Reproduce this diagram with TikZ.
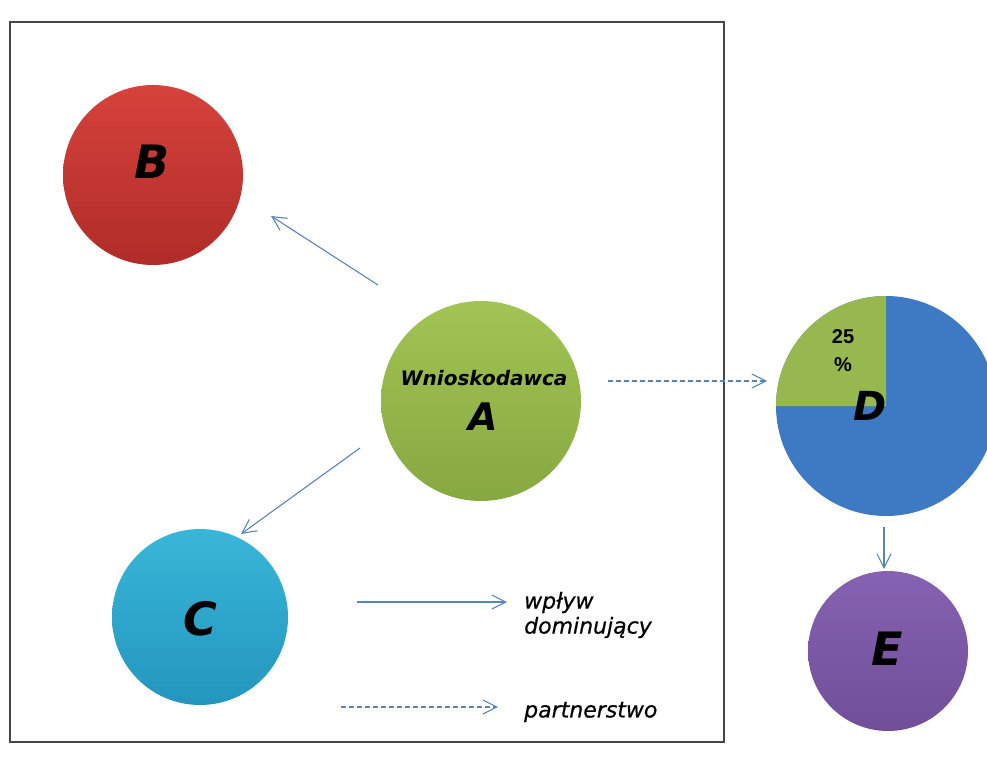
\documentclass[tikz,border=0pt]{standalone}
\usepackage{fontspec}
\setmainfont{DejaVu Sans}
\newfontfamily\arialfont{Liberation Sans}
\usetikzlibrary{arrows.meta}

\definecolor{linkblue}{RGB}{88,132,190}
\definecolor{framegray}{RGB}{70,70,70}
\definecolor{redtop}{RGB}{214,66,60}
\definecolor{redbot}{RGB}{176,44,40}
\definecolor{greentop}{RGB}{162,196,84}
\definecolor{greenbot}{RGB}{134,168,64}
\definecolor{cyantop}{RGB}{56,182,216}
\definecolor{cyanbot}{RGB}{36,150,190}
\definecolor{pieblue}{RGB}{62,122,196}
\definecolor{piegreen}{RGB}{150,184,78}
\definecolor{purptop}{RGB}{134,98,178}
\definecolor{purpbot}{RGB}{112,78,152}

\tikzset{
  ball/.style={circle, inner sep=0pt, minimum size=#1},
  bigletter/.style={font=\fontsize{46}{46}\selectfont\bfseries\itshape, inner sep=0pt},
  link/.style={draw=linkblue, line width=1.1pt,
    -{Straight Barb[length=14pt,width=14pt,line width=1.1pt]}},
  partner/.style={link, dash pattern=on 5pt off 3pt},
  legendtext/.style={font=\fontsize{22}{25}\selectfont\itshape\addfontfeature{FakeBold=0.6},
    anchor=west, inner sep=0pt, align=left},
}

\begin{document}
\begin{tikzpicture}[x=1pt, y=-1pt]
  \useasboundingbox (0,0) rectangle (987,760);

  % outer frame
  \draw[framegray, line width=1.2pt] (10,22) rectangle (724,742);

  % entity B
  \shade[top color=redtop, bottom color=redbot] (153,175) circle[radius=90pt];
  \node[ball=180pt] (B) at (153,175) {};
  \node[bigletter] (Blab) at (152,162) {B};

  % applicant A
  \shade[top color=greentop, bottom color=greenbot] (481,401) circle[radius=100pt];
  \node[ball=200pt] (A) at (481,401) {};
  \node[font=\fontsize{20}{20}\selectfont\bfseries\itshape, inner sep=0pt] (Aname) at (484,378) {Wnioskodawca};
  \node[font=\fontsize{38}{38}\selectfont\bfseries\itshape, inner sep=0pt] (Alab) at (483,417) {A};

  % entity C
  \shade[top color=cyantop, bottom color=cyanbot] (200,617) circle[radius=88pt];
  \node[ball=176pt] (C) at (200,617) {};
  \node[bigletter] (Clab) at (200,619) {C};

  % entity D as a pie (25% share)
  \coordinate (Dc) at (886,406);
  \fill[pieblue] (Dc) circle[radius=110pt];
  \fill[piegreen] (Dc) -- (776,406) arc[start angle=180, end angle=90, radius=110pt] -- cycle;
  \node[ball=220pt] (D) at (Dc) {};
  \node[font=\fontsize{40}{40}\selectfont\bfseries\itshape, inner sep=0pt] (Dlab) at (870,406) {D};
  \node[font=\arialfont\fontsize{20}{28}\selectfont\bfseries, align=center, inner sep=0pt] (pct) at (843,351) {25\\\%};

  % entity E
  \shade[top color=purptop, bottom color=purpbot] (888,651) circle[radius=80pt];
  \node[ball=160pt] (E) at (888,651) {};
  \node[bigletter] (Elab) at (887,649) {E};

  % connectors
  \coordinate (ABs) at (378,285);
  \coordinate (ABe) at (271,216);
  \draw[link] (ABs) -- (ABe);
  \coordinate (ACs) at (360,448);
  \coordinate (ACe) at (241,534);
  \draw[link] (ACs) -- (ACe);
  \coordinate (ADs) at (608,381);
  \coordinate (ADe) at (767,381);
  \draw[partner] (ADs) -- (ADe);
  \coordinate (DEs) at (884,527);
  \coordinate (DEe) at (884,569);
  \draw[link] (DEs) -- (DEe);

  % legend
  \coordinate (L1s) at (357,602);
  \coordinate (L1e) at (507,602);
  \draw[link] (L1s) -- (L1e);
  \node[legendtext] (L1) at (524,615) {wpływ\\dominujący};
  \coordinate (L2s) at (341,707);
  \coordinate (L2e) at (498,707);
  \draw[partner] (L2s) -- (L2e);
  \node[legendtext] (L2) at (524,712) {partnerstwo};
\end{tikzpicture}
\end{document}
